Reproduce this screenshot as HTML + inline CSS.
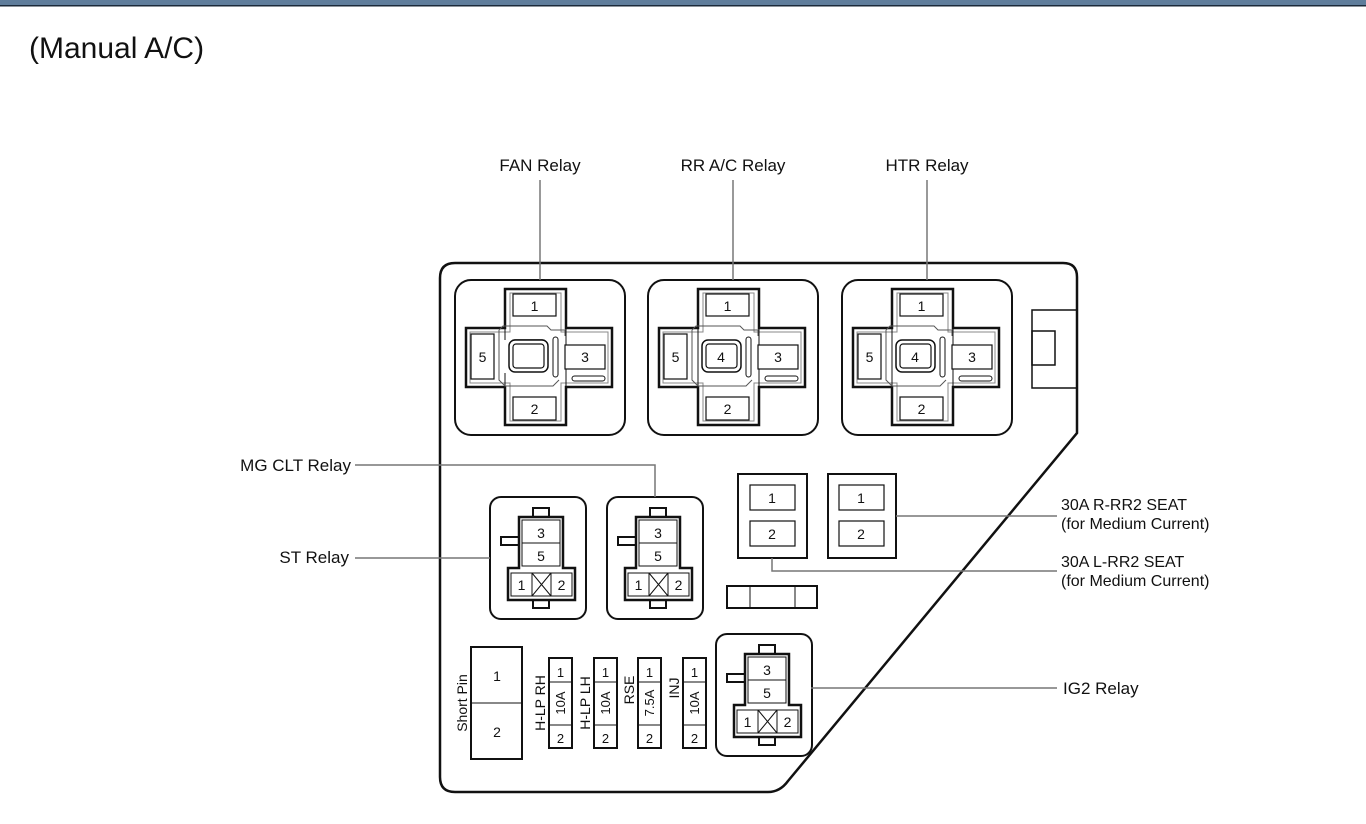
<!DOCTYPE html>
<html><head><meta charset="utf-8"><style>
html,body{margin:0;padding:0;background:#fff;width:1366px;height:824px;overflow:hidden}
svg{display:block}
text{font-family:"Liberation Sans",Arial,sans-serif;fill:#111}
</style></head><body>
<svg width="1366" height="824" viewBox="0 0 1366 824" xmlns="http://www.w3.org/2000/svg">
<defs>
  <g id="big">
    <rect x="0" y="0" width="170" height="155" rx="16" fill="none" stroke="#111" stroke-width="2"/>
    <path d="M50 9 H111 V48 H157 V107 H111 V145 H50 V107 H11 V48 H50 Z" fill="#fff" stroke="#111" stroke-width="2.5"/>
    <path d="M55 13 H106 V52 H153 V103 H106 V141 H55 V103 H15 V52 H55 Z" fill="none" stroke="#888" stroke-width="1"/>
    <path d="M50 48 V107 M111 48 V107" stroke="#111" stroke-width="1"/>
    <path d="M44 50 L48 46 H92 L96 50 H110 V56 M44 50 V100 L50 106 H98 L104 100" fill="none" stroke="#555" stroke-width="1"/>
    <rect x="58" y="14" width="43" height="22" fill="#fff" stroke="#111" stroke-width="1.2"/>
    <rect x="58" y="117" width="43" height="23" fill="#fff" stroke="#111" stroke-width="1.2"/>
    <rect x="16" y="54" width="23" height="45" fill="#fff" stroke="#111" stroke-width="1.2"/>
    <rect x="110" y="65" width="40" height="24" fill="#fff" stroke="#111" stroke-width="1.2"/>
    <rect x="54" y="60" width="39" height="32" rx="6" fill="#fff" stroke="#111" stroke-width="1.5"/>
    <rect x="58" y="64" width="31" height="24" rx="3" fill="none" stroke="#111" stroke-width="1.2"/>
    <rect x="98" y="57" width="5" height="40" rx="2.5" fill="#fff" stroke="#111" stroke-width="1"/>
    <rect x="117" y="96" width="33" height="5" rx="2.5" fill="#fff" stroke="#111" stroke-width="1"/>
    <text x="79.5" y="31" font-size="14" text-anchor="middle">1</text>
    <text x="79.5" y="134" font-size="14" text-anchor="middle">2</text>
    <text x="27.5" y="82" font-size="14" text-anchor="middle">5</text>
    <text x="130" y="82" font-size="14" text-anchor="middle">3</text>
  </g>
  <g id="small">
    <rect x="0" y="0" width="96" height="122" rx="11" fill="none" stroke="#111" stroke-width="2"/>
    <rect x="43" y="11" width="16" height="10" fill="#fff" stroke="#111" stroke-width="2"/>
    <rect x="43" y="102" width="16" height="9" fill="#fff" stroke="#111" stroke-width="2"/>
    <rect x="11" y="40" width="19" height="8" fill="#fff" stroke="#111" stroke-width="2"/>
    <path d="M29 20 H73 V71 H85 V103 H18 V71 H29 Z" fill="#fff" stroke="#111" stroke-width="2.5"/>
    <rect x="32" y="23" width="38" height="46" fill="none" stroke="#111" stroke-width="1"/>
    <line x1="32" y1="46" x2="70" y2="46" stroke="#111" stroke-width="1"/>
    <rect x="21" y="76" width="61" height="23" fill="none" stroke="#111" stroke-width="1"/>
    <rect x="42" y="76" width="19" height="23" fill="none" stroke="#111" stroke-width="1"/>
    <path d="M42 76 L61 99 M61 76 L42 99" stroke="#111" stroke-width="1"/>
    <text x="51" y="41" font-size="14" text-anchor="middle">3</text>
    <text x="51" y="64" font-size="14" text-anchor="middle">5</text>
    <text x="31.5" y="93" font-size="14" text-anchor="middle">1</text>
    <text x="71.5" y="93" font-size="14" text-anchor="middle">2</text>
  </g>
  <g id="fuse">
    <rect x="0" y="0" width="23" height="90" fill="#fff" stroke="#111" stroke-width="2"/>
    <line x1="0" y1="24" x2="23" y2="24" stroke="#111" stroke-width="1"/>
    <line x1="0" y1="67" x2="23" y2="67" stroke="#111" stroke-width="1"/>
    <text x="11.5" y="19" font-size="13" text-anchor="middle">1</text>
    <text x="11.5" y="85" font-size="13" text-anchor="middle">2</text>
  </g>
</defs>

<rect x="0" y="0" width="1366" height="5" fill="#5f7d9b"/>
<rect x="0" y="5" width="1366" height="1.5" fill="#1b2a3a"/>

<text x="29" y="58" font-size="30">(Manual A/C)</text>

<!-- housing -->
<path d="M455 263 H1063 Q1077 263 1077 277 V433 L788 781 Q780 792 768 792 H455 Q440 792 440 777 V278 Q440 263 455 263 Z" fill="none" stroke="#111" stroke-width="2.5"/>

<!-- right connector -->
<rect x="1032" y="310" width="45" height="78" fill="none" stroke="#111" stroke-width="1.5"/>
<rect x="1032" y="331" width="23" height="34" fill="none" stroke="#111" stroke-width="1.5"/>

<!-- big relays -->
<use href="#big" x="455" y="280"/>
<use href="#big" x="648" y="280"/>
<use href="#big" x="842" y="280"/>
<rect x="502" y="340" width="50" height="33" fill="#fff"/>
<rect x="509" y="340" width="39" height="32" rx="6" fill="#fff" stroke="#111" stroke-width="1.5"/>
<rect x="513" y="344" width="31" height="24" rx="3" fill="none" stroke="#111" stroke-width="1.2"/>
<text x="721" y="362" font-size="14" text-anchor="middle">4</text>
<text x="915" y="362" font-size="14" text-anchor="middle">4</text>

<!-- top labels -->
<text x="540" y="171" font-size="17" text-anchor="middle">FAN Relay</text>
<text x="733" y="171" font-size="17" text-anchor="middle">RR A/C Relay</text>
<text x="927" y="171" font-size="17" text-anchor="middle">HTR Relay</text>
<g stroke="#777" stroke-width="1.5">
<line x1="540" y1="180" x2="540" y2="280"/>
<line x1="733" y1="180" x2="733" y2="280"/>
<line x1="927" y1="180" x2="927" y2="280"/>
</g>

<!-- small relays -->
<use href="#small" x="490" y="497"/>
<use href="#small" x="607" y="497"/>
<use href="#small" x="716" y="634"/>

<!-- 30A fuses -->
<rect x="738" y="474" width="69" height="84" fill="none" stroke="#111" stroke-width="2"/>
<rect x="750" y="485" width="45" height="25" fill="none" stroke="#111" stroke-width="1.2"/>
<rect x="750" y="521" width="45" height="25" fill="none" stroke="#111" stroke-width="1.2"/>
<text x="772" y="503" font-size="14" text-anchor="middle">1</text>
<text x="772" y="539" font-size="14" text-anchor="middle">2</text>
<rect x="828" y="474" width="68" height="84" fill="none" stroke="#111" stroke-width="2"/>
<rect x="839" y="485" width="45" height="25" fill="none" stroke="#111" stroke-width="1.2"/>
<rect x="839" y="521" width="45" height="25" fill="none" stroke="#111" stroke-width="1.2"/>
<text x="861" y="503" font-size="14" text-anchor="middle">1</text>
<text x="861" y="539" font-size="14" text-anchor="middle">2</text>

<rect x="727" y="586" width="90" height="22" fill="none" stroke="#111" stroke-width="2"/>
<line x1="750" y1="586" x2="750" y2="608" stroke="#111" stroke-width="1"/>
<line x1="795" y1="586" x2="795" y2="608" stroke="#111" stroke-width="1"/>

<!-- short pin -->
<rect x="471" y="647" width="51" height="112" fill="none" stroke="#111" stroke-width="2"/>
<line x1="471" y1="703" x2="522" y2="703" stroke="#111" stroke-width="1"/>
<text x="497" y="681" font-size="14" text-anchor="middle">1</text>
<text x="497" y="737" font-size="14" text-anchor="middle">2</text>
<text transform="translate(467,703) rotate(-90)" font-size="14" text-anchor="middle">Short Pin</text>

<!-- fuses -->
<use href="#fuse" x="549" y="658"/>
<use href="#fuse" x="594" y="658"/>
<use href="#fuse" x="638" y="658"/>
<use href="#fuse" x="683" y="658"/>
<text transform="translate(565,703) rotate(-90)" font-size="13" text-anchor="middle">10A</text>
<text transform="translate(610,703) rotate(-90)" font-size="13" text-anchor="middle">10A</text>
<text transform="translate(654,703) rotate(-90)" font-size="13" text-anchor="middle">7.5A</text>
<text transform="translate(699,703) rotate(-90)" font-size="13" text-anchor="middle">10A</text>
<text transform="translate(545,703) rotate(-90)" font-size="14" text-anchor="middle">H-LP RH</text>
<text transform="translate(590,703) rotate(-90)" font-size="14" text-anchor="middle">H-LP LH</text>
<text transform="translate(634,690) rotate(-90)" font-size="14" text-anchor="middle">RSE</text>
<text transform="translate(679,688) rotate(-90)" font-size="14" text-anchor="middle">INJ</text>

<!-- leaders -->
<g stroke="#777" stroke-width="1.5" fill="none">
<polyline points="355,465 655,465 655,497"/>
<line x1="355" y1="558" x2="490" y2="558"/>
<line x1="896" y1="516" x2="1057" y2="516"/>
<polyline points="772,558 772,571 1057,571"/>
<line x1="811" y1="688" x2="1057" y2="688"/>
</g>

<text x="351" y="471" font-size="17" text-anchor="end">MG CLT Relay</text>
<text x="349" y="563" font-size="17" text-anchor="end">ST Relay</text>
<text x="1061" y="510" font-size="16">30A R-RR2 SEAT</text>
<text x="1061" y="529" font-size="16">(for Medium Current)</text>
<text x="1061" y="567" font-size="16">30A L-RR2 SEAT</text>
<text x="1061" y="586" font-size="16">(for Medium Current)</text>
<text x="1063" y="694" font-size="17">IG2 Relay</text>
</svg>
</body></html>
